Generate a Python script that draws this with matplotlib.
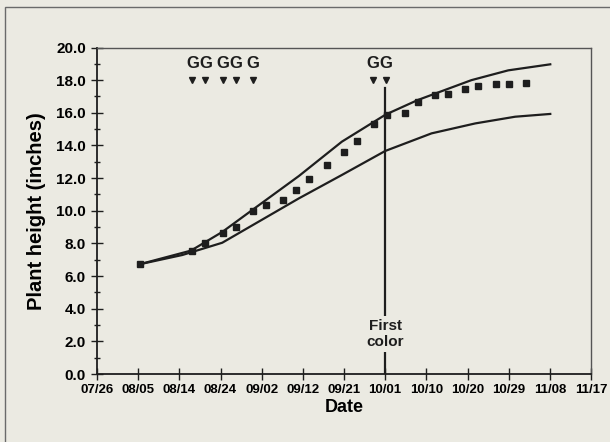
import numpy as np
import matplotlib
matplotlib.use("Agg")
from matplotlib import pyplot as plt
from matplotlib.patches import Rectangle

plt.rcParams['font.family'] = ['Liberation Sans', 'DejaVu Sans']

# x values are days after 07/26
date_labels = ['07/26', '08/05', '08/14', '08/24', '09/02', '09/12', '09/21',
               '10/01', '10/10', '10/20', '10/29', '11/08', '11/17']
tick_step = 9.5

# measured plant heights
obs_day = [10, 22, 25, 29, 32, 36, 39, 43, 46, 49, 53, 57, 60, 64, 67, 71,
           74, 78, 81, 85, 88, 92, 95, 99]
obs_height = [6.72, 7.55, 8.02, 8.61, 8.99, 10.0, 10.35, 10.66, 11.27, 11.94,
              12.8, 13.62, 14.27, 15.31, 15.87, 15.98, 16.68, 17.09, 17.18,
              17.46, 17.62, 17.76, 17.76, 17.84]

# upper and lower guide curves
upper_day = [9.8, 21.7, 28.9, 35.8, 46.6, 56.5, 66.6, 74.0, 86.4, 94.9, 104.6]
upper_height = [6.72, 7.56, 8.70, 10.04, 12.13, 14.23, 15.89, 16.78, 18.0, 18.6, 18.97]
lower_day = [9.8, 19.7, 28.9, 46.6, 56.5, 66.5, 77.2, 87.3, 96.5, 104.6]
lower_height = [6.72, 7.29, 8.04, 10.76, 12.19, 13.66, 14.74, 15.35, 15.76, 15.93]

# "G" marks (days) and first color date
g_days = [22, 25, 29, 32, 36, 63.6, 66.7]
g_arrow_level = 18.0
g_text_level = 19.0
first_color_day = 66.5
first_color_top = 17.5

bg = '#ebeae2'
ink = '#1e1e1e'

fig = plt.figure(figsize=(6.1, 4.42), dpi=100)
fig.patch.set_facecolor(bg)
fig.patches.append(Rectangle((5 / 610, -0.05), 1.1, 1 - 7 / 442 + 0.05,
                             transform=fig.transFigure, fill=False,
                             edgecolor='#6a6a6a', linewidth=1.0))

ax = fig.add_axes([97 / 610, 1 - 374 / 442, 494 / 610, 326.5 / 442])
ax.set_facecolor(bg)

ax.plot(upper_day, upper_height, color=ink, lw=1.6, zorder=3)
ax.plot(lower_day, lower_height, color=ink, lw=1.6, zorder=3)
ax.plot(obs_day, obs_height, 's', color=ink, ms=5, zorder=4)

# first color line with label
ax.plot([first_color_day, first_color_day], [0, first_color_top], color=ink, lw=1.6, zorder=2)
ax.text(first_color_day, 2.45, 'First\ncolor', ha='center', va='center',
        fontsize=11, fontweight='bold', color=ink, linespacing=1.15, zorder=5,
        bbox=dict(facecolor=bg, edgecolor='none', pad=2))

# G markers
ax.plot(g_days, [g_arrow_level] * len(g_days), 'v', color=ink, ms=5, zorder=4)
for d in g_days:
    ax.text(d, g_text_level, 'G', ha='center', va='center', fontsize=12,
            fontweight='bold', color=ink)

ax.set_xlim(0, tick_step * 12)
ax.set_ylim(0, 20)
ax.set_xticks(np.arange(len(date_labels)) * tick_step)
ax.set_xticklabels(date_labels, fontsize=9.5, fontweight='bold')
ax.set_yticks(np.arange(0, 21, 2))
ax.set_yticklabels(['%.1f' % v for v in np.arange(0, 21, 2)], fontsize=11, fontweight='bold')
ax.set_yticks(np.arange(1, 20, 2), minor=True)
ax.tick_params(axis='both', which='major', direction='inout', length=8, width=1, color=ink)
ax.tick_params(axis='y', which='minor', direction='inout', length=5, width=1, color=ink)
ax.tick_params(axis='x', pad=3)
ax.tick_params(axis='y', pad=4)

for s in ['left', 'bottom']:
    ax.spines[s].set_linewidth(1.3)
    ax.spines[s].set_color(ink)
for s in ['top', 'right']:
    ax.spines[s].set_linewidth(1.0)
    ax.spines[s].set_color('#555555')

ax.set_xlabel('Date', fontsize=13, fontweight='bold', labelpad=2)
ax.set_ylabel('Plant height (inches)', fontsize=14.5, fontweight='bold', labelpad=7)

plt.savefig('out.png', dpi=100, facecolor=bg)
